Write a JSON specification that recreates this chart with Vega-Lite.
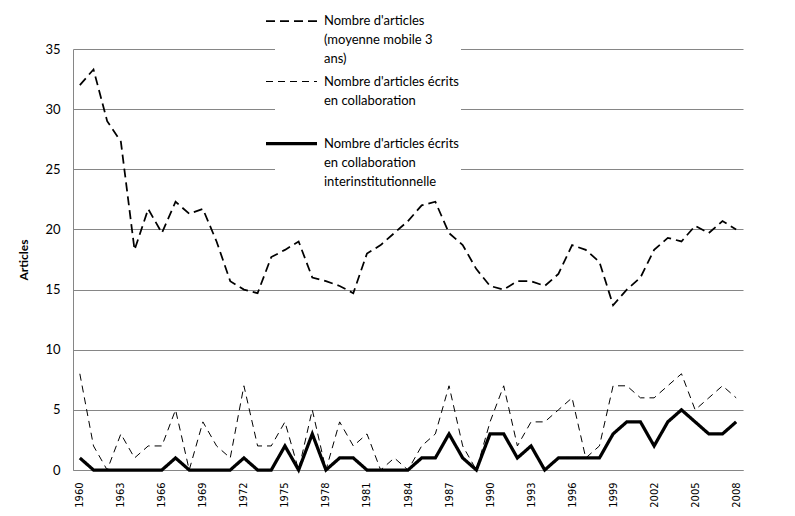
{
  "$schema": "https://vega.github.io/schema/vega-lite/v6.json",
  "width": 670,
  "height": 421,
  "autosize": "none",
  "padding": {"left": 73, "top": 49, "right": 52, "bottom": 46},
  "background": "white",
  "config": {
    "view": {"stroke": null},
    "font": "Lato",
    "legend": {
      "title": null,
      "orient": "none",
      "legendX": 202,
      "legendY": -44,
      "direction": "vertical",
      "fillColor": "white",
      "padding": 2,
      "symbolType": "M-2,0H2",
      "symbolSize": 650,
      "symbolStrokeColor": "black",
      "symbolFillColor": "transparent",
      "labelFont": "Lato",
      "labelFontSize": 13,
      "labelColor": "#000000",
      "labelOffset": 18,
      "labelLimit": 400,
      "labelBaseline": "middle",
      "rowPadding": 1,
      "gridAlign": "all"
    }
  },
  "data": {
    "values": [
      {"year": 1960, "ma": 32, "collab": 8, "inter": 1},
      {"year": 1961, "ma": 33.3, "collab": 2, "inter": 0},
      {"year": 1962, "ma": 29, "collab": 0, "inter": 0},
      {"year": 1963, "ma": 27.3, "collab": 3, "inter": 0},
      {"year": 1964, "ma": 18.3, "collab": 1, "inter": 0},
      {"year": 1965, "ma": 21.7, "collab": 2, "inter": 0},
      {"year": 1966, "ma": 19.7, "collab": 2, "inter": 0},
      {"year": 1967, "ma": 22.3, "collab": 5, "inter": 1},
      {"year": 1968, "ma": 21.3, "collab": 0, "inter": 0},
      {"year": 1969, "ma": 21.7, "collab": 4, "inter": 0},
      {"year": 1970, "ma": 19, "collab": 2, "inter": 0},
      {"year": 1971, "ma": 15.7, "collab": 1, "inter": 0},
      {"year": 1972, "ma": 15, "collab": 7, "inter": 1},
      {"year": 1973, "ma": 14.7, "collab": 2, "inter": 0},
      {"year": 1974, "ma": 17.7, "collab": 2, "inter": 0},
      {"year": 1975, "ma": 18.3, "collab": 4, "inter": 2},
      {"year": 1976, "ma": 19, "collab": 0, "inter": 0},
      {"year": 1977, "ma": 16, "collab": 5, "inter": 3},
      {"year": 1978, "ma": 15.7, "collab": 0, "inter": 0},
      {"year": 1979, "ma": 15.3, "collab": 4, "inter": 1},
      {"year": 1980, "ma": 14.7, "collab": 2, "inter": 1},
      {"year": 1981, "ma": 18, "collab": 3, "inter": 0},
      {"year": 1982, "ma": 18.7, "collab": 0, "inter": 0},
      {"year": 1983, "ma": 19.7, "collab": 1, "inter": 0},
      {"year": 1984, "ma": 20.7, "collab": 0, "inter": 0},
      {"year": 1985, "ma": 22, "collab": 2, "inter": 1},
      {"year": 1986, "ma": 22.3, "collab": 3, "inter": 1},
      {"year": 1987, "ma": 19.7, "collab": 7, "inter": 3},
      {"year": 1988, "ma": 18.7, "collab": 2, "inter": 1},
      {"year": 1989, "ma": 16.7, "collab": 0, "inter": 0},
      {"year": 1990, "ma": 15.3, "collab": 4, "inter": 3},
      {"year": 1991, "ma": 15, "collab": 7, "inter": 3},
      {"year": 1992, "ma": 15.7, "collab": 2, "inter": 1},
      {"year": 1993, "ma": 15.7, "collab": 4, "inter": 2},
      {"year": 1994, "ma": 15.3, "collab": 4, "inter": 0},
      {"year": 1995, "ma": 16.3, "collab": 5, "inter": 1},
      {"year": 1996, "ma": 18.7, "collab": 6, "inter": 1},
      {"year": 1997, "ma": 18.3, "collab": 1, "inter": 1},
      {"year": 1998, "ma": 17.3, "collab": 2, "inter": 1},
      {"year": 1999, "ma": 13.7, "collab": 7, "inter": 3},
      {"year": 2000, "ma": 15, "collab": 7, "inter": 4},
      {"year": 2001, "ma": 16, "collab": 6, "inter": 4},
      {"year": 2002, "ma": 18.3, "collab": 6, "inter": 2},
      {"year": 2003, "ma": 19.3, "collab": 7, "inter": 4},
      {"year": 2004, "ma": 19, "collab": 8, "inter": 5},
      {"year": 2005, "ma": 20.3, "collab": 5, "inter": 4},
      {"year": 2006, "ma": 19.7, "collab": 6, "inter": 3},
      {"year": 2007, "ma": 20.7, "collab": 7, "inter": 3},
      {"year": 2008, "ma": 20, "collab": 6, "inter": 4}
    ]
  },
  "transform": [
    {"fold": ["ma", "collab", "inter"], "as": ["series", "value"]}
  ],
  "mark": {"type": "line", "color": "black", "strokeCap": "butt", "strokeJoin": "miter"},
  "encoding": {
    "x": {
      "field": "year",
      "type": "ordinal",
      "scale": {"type": "point", "padding": 0.5},
      "axis": {
        "title": null,
        "values": [1960, 1963, 1966, 1969, 1972, 1975, 1978, 1981, 1984, 1987, 1990, 1993, 1996, 1999, 2002, 2005, 2008],
        "labelAngle": -90,
        "labelFont": "Liberation Sans Narrow, DejaVu Sans Condensed, sans-serif",
        "labelFontSize": 11,
        "labelColor": "#000000",
        "labelPadding": 12,
        "ticks": false,
        "tickSize": 0,
        "domainColor": "#868686",
        "domainWidth": 1,
        "grid": false
      }
    },
    "y": {
      "field": "value",
      "type": "quantitative",
      "scale": {"domain": [0, 35], "nice": false, "zero": true},
      "axis": {
        "title": "Articles",
        "titleFont": "Lato",
        "titleFontSize": 12,
        "titleFontWeight": "bold",
        "titleColor": "#000000",
        "titlePadding": 14,
        "values": [0, 5, 10, 15, 20, 25, 30, 35],
        "labelFont": "Lato",
        "labelFontSize": 13,
        "labelColor": "#000000",
        "labelPadding": 13,
        "ticks": false,
        "tickSize": 0,
        "domainColor": "#868686",
        "domainWidth": 1,
        "gridColor": "#868686",
        "gridWidth": 1,
        "gridOpacity": 1
      }
    },
    "strokeDash": {
      "field": "series",
      "type": "nominal",
      "scale": {"domain": ["ma", "collab", "inter"], "range": [[9, 5], [7, 5], [1, 0]]},
      "legend": {
        "labelExpr": "datum.label == 'ma' ? [\"Nombre d'articles\", '(moyenne mobile 3', 'ans)'] : datum.label == 'collab' ? [\"Nombre d'articles écrits\", 'en collaboration'] : [\"Nombre d'articles écrits\", 'en collaboration', 'interinstitutionnelle']",
        "encode": {"labels": {"update": {"lineHeight": {"value": 19}}}}
      }
    },
    "strokeWidth": {
      "field": "series",
      "type": "nominal",
      "scale": {"type": "ordinal", "domain": ["ma", "collab", "inter"], "range": [1.75, 1, 3.25]},
      "legend": {
        "labelExpr": "datum.label == 'ma' ? [\"Nombre d'articles\", '(moyenne mobile 3', 'ans)'] : datum.label == 'collab' ? [\"Nombre d'articles écrits\", 'en collaboration'] : [\"Nombre d'articles écrits\", 'en collaboration', 'interinstitutionnelle']",
        "encode": {"labels": {"update": {"lineHeight": {"value": 19}}}}
      }
    },
    "order": {"field": "year"}
  }
}
